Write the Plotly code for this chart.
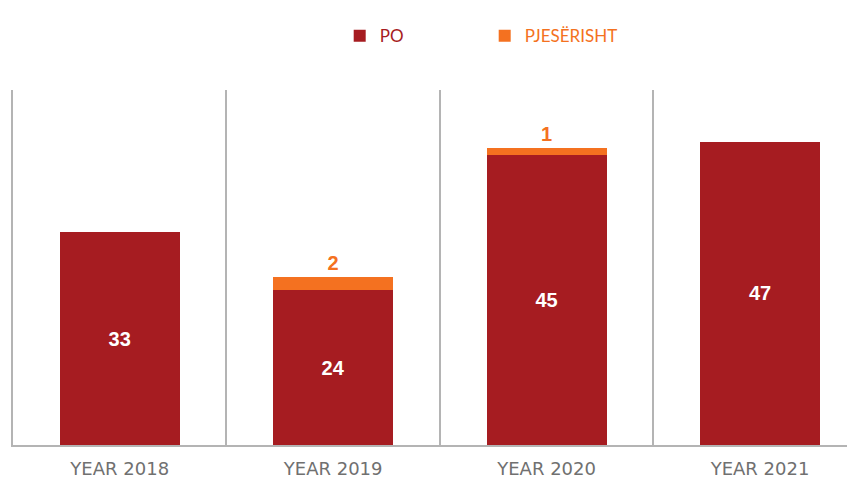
import plotly.graph_objects as go

categories = ["YEAR 2018", "YEAR 2019", "YEAR 2020", "YEAR 2021"]
po_values = [33, 24, 45, 47]
partial_categories = ["YEAR 2019", "YEAR 2020"]
partial_values = [2, 1]

RED = "#a61c21"
ORANGE = "#f47120"

fig = go.Figure()
fig.add_trace(go.Bar(
    x=categories, y=po_values, name="<span style='color:%s'>PO</span>" % RED,
    marker=dict(color=RED, line=dict(width=0)),
    text=[str(v) for v in po_values], textposition="inside", insidetextanchor="middle",
    textfont=dict(family="Liberation Sans, Arial", size=20, color="white", weight="bold"),
    hoverinfo="skip",
))
fig.add_trace(go.Bar(
    x=partial_categories, y=partial_values, name="<span style='color:%s'>PJESËRISHT</span>" % ORANGE,
    marker=dict(color=ORANGE, line=dict(width=0)),
    text=[str(v) for v in partial_values], textposition="outside",
    textfont=dict(family="Liberation Sans, Arial", size=20, color=ORANGE, weight="bold"),
    cliponaxis=False, hoverinfo="skip",
))

fig.update_layout(
    width=855, height=477,
    margin=dict(l=5, r=8, t=82, b=40),
    barmode="stack", bargap=0.438,
    plot_bgcolor="white", paper_bgcolor="white",
    showlegend=True,
    legend=dict(orientation="h", x=0.388, xanchor="left", y=0.941, yanchor="middle",
                yref="container", font=dict(family="Lato, DejaVu Sans", size=17),
                traceorder="normal", entrywidth=100, itemwidth=30),
    xaxis=dict(type="category", categoryorder="array", categoryarray=categories,
               range=[-0.5, 3.445], tickson="boundaries", showgrid=True,
               gridcolor="#b4b4b4", gridwidth=2, ticks="", showline=True,
               linecolor="#b4b4b4", linewidth=2, ticklabelstandoff=6,
               tickfont=dict(family="DejaVu Sans", size=18, color="#707070")),
    yaxis=dict(range=[0, 55], showgrid=False, showticklabels=False, zeroline=False,
               showline=True, linecolor="#b4b4b4", linewidth=2, ticks=""),
)

fig.write_html("out.html")
